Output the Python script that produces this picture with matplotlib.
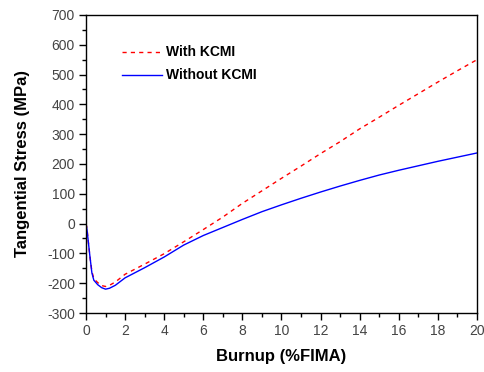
import numpy as np
import matplotlib
matplotlib.use('Agg')
import matplotlib.pyplot as plt
from matplotlib.ticker import MultipleLocator

plt.rcParams['font.family'] = ['Liberation Sans', 'DejaVu Sans']
plt.rcParams['axes.unicode_minus'] = False

# burnup (%FIMA)
burnup = [0, 0.05, 0.1, 0.2, 0.3, 0.4, 0.6, 0.8, 1.0, 1.2, 1.5, 2, 3, 4, 5,
          6, 7, 8, 9, 10, 11, 12, 13, 14, 15, 16, 17, 18, 19, 20]

# tangential stress (MPa)
with_kcmi = [0, -15, -50, -110, -160, -185, -198, -208, -211, -207, -196,
             -170, -136, -101, -61, -20, 22, 68, 110, 152, 193, 235, 275,
             318, 357, 397, 436, 475, 513, 550]
without_kcmi = [0, -20, -50, -110, -165, -190, -205, -215, -220, -217, -207,
                -182, -148, -112, -72, -40, -13, 14, 40, 63, 85, 106, 126,
                145, 163, 179, 194, 209, 223, 237]

fig = plt.figure(figsize=(4.84, 3.72), dpi=100)
ax = fig.add_axes([0.1777, 0.1586, 0.8078, 0.8011])

ax.plot(burnup, with_kcmi, color='#ff0000', lw=1.0, linestyle=(0, (3, 3)),
        label='With KCMI')
ax.plot(burnup, without_kcmi, color='#0000ff', lw=1.0, label='Without KCMI')

ax.set_xlim(0, 20)
ax.set_ylim(-300, 700)
ax.xaxis.set_major_locator(MultipleLocator(2))
ax.xaxis.set_minor_locator(MultipleLocator(1))
ax.yaxis.set_major_locator(MultipleLocator(100))
ax.yaxis.set_minor_locator(MultipleLocator(50))
ax.tick_params(which='both', direction='out', top=False, right=False,
               labelsize=10, labelcolor='#444444', width=1)
ax.tick_params(which='major', length=5, pad=3)
ax.tick_params(which='minor', length=3)
for s in ax.spines.values():
    s.set_linewidth(1)

ax.set_xlabel('Burnup (%FIMA)', fontsize=12, fontweight='bold', labelpad=8)
ax.set_ylabel('Tangential Stress (MPa)', fontsize=12, fontweight='bold',
              labelpad=12)

leg = ax.legend(loc='upper left', bbox_to_anchor=(0.06, 0.94), frameon=False,
                prop={'size': 10, 'weight': 'bold'}, handlelength=2.9,
                handletextpad=0.3, labelspacing=0.65)

fig.savefig('out.png', dpi=100)
